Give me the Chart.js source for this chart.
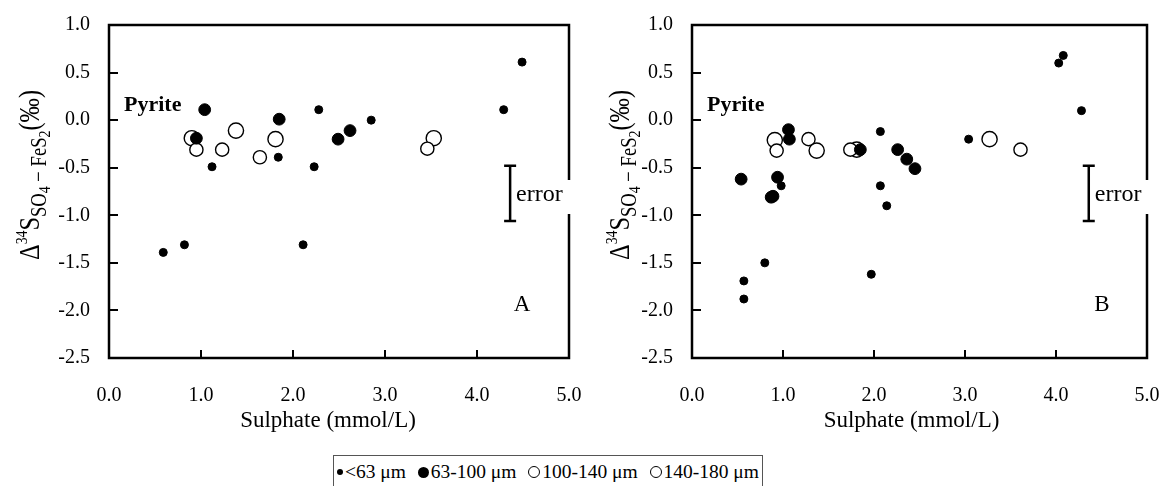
<!DOCTYPE html>
<html><head><meta charset="utf-8">
<script src="https://cdn.jsdelivr.net/npm/chart.js@4.4.1/dist/chart.umd.min.js"></script>
<style>
html,body{margin:0;padding:0;background:#fff;}
body{width:1167px;height:486px;overflow:hidden;position:relative;font-family:"Liberation Serif","Times New Roman",serif;}
canvas{position:absolute;top:0;}
#cA{left:0;} #cB{left:583px;}
#legend{position:absolute;left:333px;top:455px;width:430px;height:40px;border:1.5px solid #555;box-sizing:border-box;font-size:19.5px;color:#000;white-space:nowrap;display:flex;justify-content:space-between;align-items:flex-start;padding:5px 3px 0 3px;}
.item{height:22px;display:flex;align-items:center;}
.mk{display:inline-block;border-radius:50%;margin-right:2px;box-sizing:border-box;}
</style></head>
<body>
<canvas id="cA" width="583" height="452"></canvas>
<canvas id="cB" width="584" height="452"></canvas>
<div id="legend"></div>
<script>
// ---------- data ----------
const sizeLabels = ['<63 \u03bcm', '63-100 \u03bcm', '100-140 \u03bcm', '140-180 \u03bcm'];
const xTitle = 'Sulphate (mmol/L)';
const xMin = 0, xMax = 5, xStep = 1;
const yMin = -2.5, yMax = 1.0, yStep = 0.5;

// Panel A
const A_lt63_x    = [4.49, 4.29, 2.28, 2.85, 1.84, 1.12, 2.23, 0.59, 0.82, 2.11];
const A_lt63_y    = [0.61, 0.11, 0.11, 0.00, -0.39, -0.49, -0.49, -1.39, -1.31, -1.31];
const A_63_100_x  = [1.04, 1.85, 0.95, 2.49, 2.62];
const A_63_100_y  = [0.11, 0.01, -0.19, -0.20, -0.11];
const A_100_140_x = [0.95, 1.23, 1.64, 3.46];
const A_100_140_y = [-0.31, -0.31, -0.39, -0.30];
const A_140_180_x = [0.90, 1.38, 1.81, 3.53];
const A_140_180_y = [-0.19, -0.11, -0.20, -0.19];
const A_error     = [4.36, -0.48, -1.06]; // x, top, bottom

// Panel B
const B_lt63_x    = [4.03, 4.08, 4.28, 3.04, 2.07, 2.07, 2.14, 1.97, 0.80, 0.57, 0.57, 0.98];
const B_lt63_y    = [0.60, 0.68, 0.10, -0.20, -0.12, -0.69, -0.90, -1.62, -1.50, -1.69, -1.88, -0.69];
const B_63_100_x  = [0.54, 0.94, 0.87, 0.89, 1.06, 1.07, 1.85, 2.26, 2.36, 2.45];
const B_63_100_y  = [-0.62, -0.60, -0.81, -0.80, -0.10, -0.20, -0.31, -0.31, -0.41, -0.51];
const B_100_140_x = [0.93, 1.28, 1.74, 3.61];
const B_100_140_y = [-0.32, -0.20, -0.31, -0.31];
const B_140_180_x = [0.91, 1.37, 1.81, 3.27];
const B_140_180_y = [-0.21, -0.32, -0.31, -0.20];
const B_error     = [4.36, -0.48, -1.06];

// ---------- styles ----------
const SERIF = '"Liberation Serif", "Times New Roman", serif';
const markerStyles = [
  {r: 4.0, fill: '#000', stroke: '#000', bw: 1},
  {r: 5.9, fill: '#000', stroke: '#000', bw: 1},
  {r: 6.6, fill: '#fff', stroke: '#000', bw: 1.4},
  {r: 7.6, fill: '#fff', stroke: '#000', bw: 1.4}
];
Chart.defaults.font.family = SERIF;
Chart.defaults.color = '#000';

function pts(xs, ys) { return xs.map((v, i) => ({x: v, y: ys[i]})); }

function sText(ctx, s, x, y, font, align, sx) {
  ctx.save();
  ctx.translate(x, y);
  ctx.scale(sx, 1);
  ctx.font = font;
  ctx.textAlign = align;
  ctx.textBaseline = 'middle';
  ctx.fillStyle = '#000';
  ctx.fillText(s, 0, 0);
  ctx.restore();
}

function drawYTitle(ctx, bx, cy, targetLen) {
  const segs = [
    ['\u0394', 30, 0], ['34', 17, -12], ['S', 30, 0],
    ['SO', 23, 7], ['4', 17, 11], [' \u2212 FeS', 23, 7], ['2', 17, 11],
    ['(\u2030)', 30, 0]
  ];
  ctx.save();
  let total = 0;
  const ws = segs.map(s => { ctx.font = s[1] + 'px ' + SERIF; const w = ctx.measureText(s[0]).width; total += w; return w; });
  const k = targetLen / total;
  ctx.translate(bx, cy);
  ctx.rotate(-Math.PI / 2);
  ctx.scale(k, 1);
  ctx.fillStyle = '#000';
  ctx.textBaseline = 'alphabetic';
  ctx.textAlign = 'left';
  let xx = -total / 2;
  segs.forEach((s, i) => { ctx.font = s[1] + 'px ' + SERIF; ctx.fillText(s[0], xx, s[2]); xx += ws[i]; });
  ctx.restore();
}

const panelPlugin = {
  id: 'panel',
  beforeDatasetsDraw(chart, _a, o) {
    const {ctx, chartArea: a, scales: {x, y}} = chart;
    ctx.save();
    ctx.strokeStyle = '#000';
    ctx.lineWidth = 2;
    ctx.beginPath();
    y.ticks.forEach(t => { const p = Math.round(y.getPixelForValue(t.value)); ctx.moveTo(a.left, p); ctx.lineTo(a.left + 9, p); });
    x.ticks.forEach(t => { const p = Math.round(x.getPixelForValue(t.value)); ctx.moveTo(p, a.bottom); ctx.lineTo(p, a.bottom - 8); });
    ctx.stroke();
    ctx.lineWidth = 2.5;
    ctx.strokeRect(a.left, a.top, a.right - a.left, a.bottom - a.top);
    ctx.restore();
  },
  afterDatasetsDraw(chart, _a, o) {
    const {ctx, chartArea: a, scales: {x, y}} = chart;
    ctx.save();
    const ex = x.getPixelForValue(o.err[0]);
    const y1 = y.getPixelForValue(o.err[1]);
    const y2 = y.getPixelForValue(o.err[2]);
    ctx.strokeStyle = '#000';
    ctx.lineWidth = 2.5;
    ctx.beginPath();
    ctx.moveTo(ex, y1); ctx.lineTo(ex, y2);
    ctx.moveTo(ex - 6, y1); ctx.lineTo(ex + 6, y1);
    ctx.moveTo(ex - 6, y2); ctx.lineTo(ex + 6, y2);
    ctx.stroke();
    ctx.fillStyle = '#fff';
    ctx.fillRect(ex + 3, 180, a.right + 3 - (ex + 3), 34);
    sText(ctx, 'error', ex + 6, 195, '24px ' + SERIF, 'left', 1);
    sText(ctx, 'Pyrite', a.left + 15, a.top + 81, 'bold 20px ' + SERIF, 'left', 1.1);
    sText(ctx, o.letter, a.right - o.letterDx, a.bottom - 53, '23px ' + SERIF, 'center', 1);
    sText(ctx, xTitle, (a.left + a.right) / 2 + o.xtDx, 421, '23px ' + SERIF, 'center', 1);
    drawYTitle(ctx, o.ytX, 175, 170);
    ctx.restore();
  }
};

function makeChart(id, series, padRight, opts) {
  const datasets = series.map((s, i) => ({
    label: sizeLabels[i],
    data: pts(s[0], s[1]),
    pointRadius: markerStyles[i].r,
    pointHoverRadius: markerStyles[i].r,
    pointBackgroundColor: markerStyles[i].fill,
    pointBorderColor: markerStyles[i].stroke,
    pointBorderWidth: markerStyles[i].bw,
    showLine: false
  }));
  return new Chart(document.getElementById(id), {
    type: 'scatter',
    data: {datasets},
    options: {
      responsive: false,
      animation: false,
      events: [],
      devicePixelRatio: 1,
      layout: {padding: {top: 25, right: padRight, left: 0, bottom: 0}},
      plugins: {legend: {display: false}, tooltip: {enabled: false}, panel: opts},
      scales: {
        x: {
          type: 'linear', min: xMin, max: xMax,
          ticks: {stepSize: xStep, callback: v => Number(v).toFixed(1), font: {size: 20, family: SERIF}, color: '#000', padding: 26, maxRotation: 0, autoSkip: false},
          grid: {display: false, drawTicks: false},
          border: {display: false},
          afterFit(s) { s.height = 94; s.paddingLeft = 0; s.paddingRight = 0; }
        },
        y: {
          type: 'linear', min: yMin, max: yMax,
          ticks: {stepSize: yStep, callback: v => Number(v).toFixed(1), font: {size: 20, family: SERIF}, color: '#000', padding: 19, autoSkip: false},
          grid: {display: false, drawTicks: false},
          border: {display: false},
          afterFit(s) { s.width = 109; s.paddingTop = 0; s.paddingBottom = 0; }
        }
      }
    },
    plugins: [panelPlugin]
  });
}

makeChart('cA', [[A_lt63_x, A_lt63_y], [A_63_100_x, A_63_100_y], [A_100_140_x, A_100_140_y], [A_140_180_x, A_140_180_y]], 14,
  {err: A_error, letter: 'A', letterDx: 47, xtDx: -11, ytX: 39});
makeChart('cB', [[B_lt63_x, B_lt63_y], [B_63_100_x, B_63_100_y], [B_100_140_x, B_100_140_y], [B_140_180_x, B_140_180_y]], 20,
  {err: B_error, letter: 'B', letterDx: 45, xtDx: -8, ytX: 46});

// ---------- legend ----------
const legendMarkerCss = [
  {d: 6, bg: '#000', b: 'none'},
  {d: 11, bg: '#000', b: 'none'},
  {d: 12, bg: '#fff', b: '1.2px solid #000'},
  {d: 12, bg: '#fff', b: '1.2px solid #000'}
];
const lg = document.getElementById('legend');
sizeLabels.forEach((lab, i) => {
  const m = legendMarkerCss[i];
  const it = document.createElement('span'); it.className = 'item';
  const mk = document.createElement('span'); mk.className = 'mk';
  mk.style.width = m.d + 'px'; mk.style.height = m.d + 'px'; mk.style.background = m.bg; mk.style.border = m.b;
  const tx = document.createElement('span'); tx.textContent = lab;
  it.appendChild(mk); it.appendChild(tx); lg.appendChild(it);
});
</script>
</body></html>
